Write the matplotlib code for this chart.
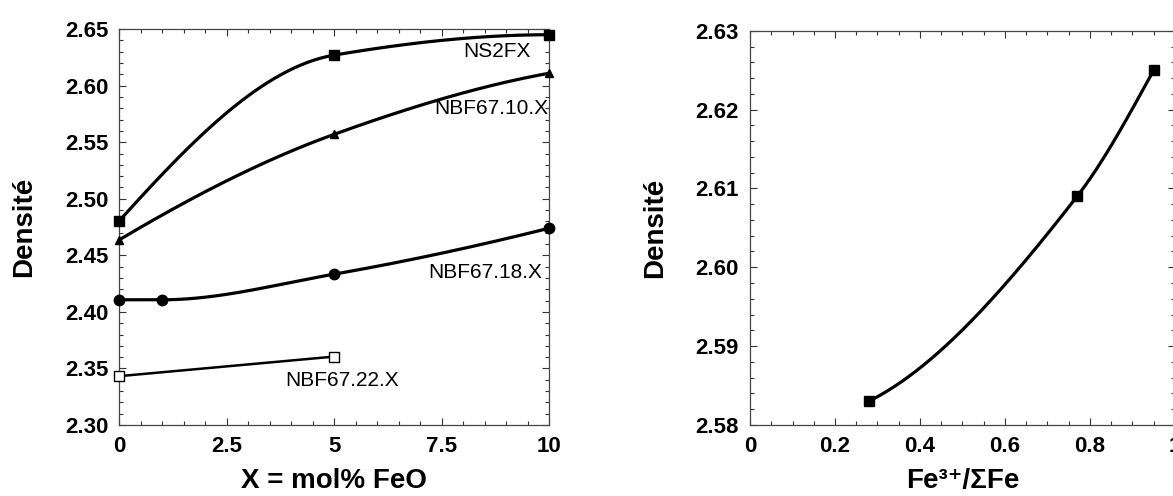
import numpy as np
import matplotlib
matplotlib.use('Agg')
import matplotlib.pyplot as plt
from matplotlib.ticker import MultipleLocator, FixedLocator

plt.rcParams['font.family'] = ['Liberation Sans', 'DejaVu Sans']

# left panel : density vs mol% FeO
x_ns2fx = [0, 5, 10]
d_ns2fx = [2.4805, 2.627, 2.645]
x_nbf10 = [0, 5, 10]
d_nbf10 = [2.4637, 2.557, 2.611]
x_nbf18 = [0, 1, 5, 10]
d_nbf18 = [2.4107, 2.4107, 2.4334, 2.474]
x_nbf22 = [0, 5]
d_nbf22 = [2.3432, 2.3605]

# right panel : density vs Fe3+/sum Fe
redox = [0.28, 0.77, 0.95]
d_redox = [2.583, 2.609, 2.625]


def pchip(x, y, n=200):
    # monotone cubic (Fritsch-Carlson) for the smoothed curves
    x = np.asarray(x, float); y = np.asarray(y, float)
    h = np.diff(x); d = np.diff(y) / h
    m = np.zeros_like(y)
    for k in range(1, len(x) - 1):
        if d[k-1] * d[k] > 0:
            w1 = 2*h[k] + h[k-1]; w2 = h[k] + 2*h[k-1]
            m[k] = (w1 + w2) / (w1/d[k-1] + w2/d[k])
    def end(h0, h1, d0, d1):
        s = ((2*h0 + h1)*d0 - h0*d1) / (h0 + h1)
        if np.sign(s) != np.sign(d0):
            s = 0.
        elif np.sign(d0) != np.sign(d1) and abs(s) > abs(3*d0):
            s = 3*d0
        return s
    if len(x) > 2:
        m[0] = end(h[0], h[1], d[0], d[1])
        m[-1] = end(h[-1], h[-2], d[-1], d[-2])
    else:
        m[:] = d[0]
    xs = np.linspace(x[0], x[-1], n)
    i = np.clip(np.searchsorted(x, xs) - 1, 0, len(h) - 1)
    t = (xs - x[i]) / h[i]
    h00 = 2*t**3 - 3*t**2 + 1; h10 = t**3 - 2*t**2 + t
    h01 = -2*t**3 + 3*t**2; h11 = t**3 - t**2
    ys = h00*y[i] + h10*h[i]*m[i] + h01*y[i+1] + h11*h[i]*m[i+1]
    return xs, ys


def style(ax):
    for s in ax.spines.values():
        s.set_linewidth(0.9)
        s.set_color('#444444')
    ax.tick_params(which='both', direction='in', top=True, right=True,
                   width=0.8, color='#333333')
    ax.tick_params(which='major', length=5, pad=8, labelsize=16)
    ax.tick_params(which='minor', length=2.8)
    for lab in ax.get_xticklabels() + ax.get_yticklabels():
        lab.set_fontweight('bold')


fig = plt.figure(figsize=(11.73, 4.96), dpi=100)
ax1 = fig.add_axes([0.1017, 0.1431, 0.3666, 0.7983])
ax2 = fig.add_axes([0.6394, 0.1435, 0.3622, 0.7943])

lw = 2.3
xs, ys = pchip(x_ns2fx, d_ns2fx)
ax1.plot(xs, ys, color='black', lw=lw)
ax1.plot(x_ns2fx, d_ns2fx, 's', color='black', ms=7.5, clip_on=False, zorder=5)
xs, ys = pchip(x_nbf10, d_nbf10)
ax1.plot(xs, ys, color='black', lw=lw)
ax1.plot(x_nbf10, d_nbf10, '^', color='black', ms=5.5, clip_on=False, zorder=5)
xs, ys = pchip(x_nbf18, d_nbf18)
ax1.plot(xs, ys, color='black', lw=lw)
ax1.plot(x_nbf18, d_nbf18, 'o', color='black', ms=7.5, clip_on=False, zorder=5)
ax1.plot(x_nbf22, d_nbf22, color='black', lw=1.8)
ax1.plot(x_nbf22, d_nbf22, 's', mfc='white', mec='black', mew=1.0, ms=7.5,
         clip_on=False, zorder=5)

ax1.text(9.57, 2.6298, 'NS2FX', fontsize=15, ha='right', va='center')
ax1.text(9.97, 2.580, 'NBF67.10.X', fontsize=15, ha='right', va='center')
ax1.text(9.83, 2.4345, 'NBF67.18.X', fontsize=15, ha='right', va='center')
ax1.text(3.85, 2.3395, 'NBF67.22.X', fontsize=15, ha='left', va='center')

ax1.set_xlim(0, 10)
ax1.set_ylim(2.30, 2.65)
ax1.xaxis.set_major_locator(FixedLocator([0, 2.5, 5, 7.5, 10]))
ax1.set_xticklabels(['0', '2.5', '5', '7.5', '10'])
ax1.xaxis.set_minor_locator(MultipleLocator(0.5))
ax1.yaxis.set_major_locator(MultipleLocator(0.05))
ax1.yaxis.set_minor_locator(MultipleLocator(0.01))
ax1.yaxis.set_major_formatter(plt.FormatStrFormatter('%.2f'))
ax1.set_xlabel('X = mol% FeO', fontsize=20, fontweight='bold', labelpad=8)
ax1.set_ylabel('Densité', fontsize=20, fontweight='bold', labelpad=20)
style(ax1)

xs, ys = pchip(redox, d_redox)
ax2.plot(xs, ys, color='black', lw=lw)
ax2.plot(redox, d_redox, 's', color='black', ms=7.5, zorder=5)
ax2.set_xlim(0, 1)
ax2.set_ylim(2.58, 2.63)
ax2.set_xticks([0, 0.2, 0.4, 0.6, 0.8, 1.0])
ax2.set_xticklabels(['0', '0.2', '0.4', '0.6', '0.8', '1'])
ax2.xaxis.set_minor_locator(MultipleLocator(0.05))
ax2.yaxis.set_major_locator(MultipleLocator(0.01))
ax2.yaxis.set_minor_locator(MultipleLocator(0.002))
ax2.yaxis.set_major_formatter(plt.FormatStrFormatter('%.2f'))
ax2.set_xlabel('Fe³⁺/ΣFe', fontsize=20, fontweight='bold', labelpad=8)
ax2.set_ylabel('Densité', fontsize=20, fontweight='bold', labelpad=20)
style(ax2)

fig.savefig('out.png', dpi=100)
